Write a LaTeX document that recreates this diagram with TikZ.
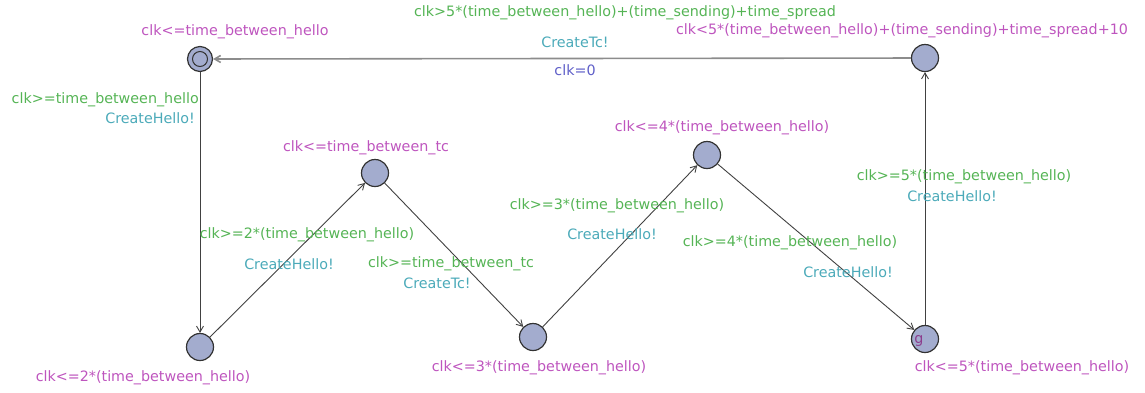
\documentclass[tikz,border=0pt]{standalone}
\usepackage{fontspec}
\setmainfont{DejaVu Sans}
\usetikzlibrary{arrows.meta}
\definecolor{guardc}{RGB}{85,180,85}
\definecolor{invc}{RGB}{190,85,190}
\definecolor{syncc}{RGB}{75,170,185}
\definecolor{assignc}{RGB}{95,95,200}
\definecolor{namec}{RGB}{140,60,140}
\definecolor{locfill}{RGB}{163,172,206}
\definecolor{edgec}{RGB}{65,65,65}
\begin{document}
\begin{tikzpicture}[x=1pt,y=-1pt,
  loc/.style={circle,draw=black!80,fill=locfill,line width=1.2pt,minimum size=27pt,inner sep=0pt},
  lbl/.style={font=\fontsize{14.3}{16}\selectfont,inner sep=0pt},
  guard/.style={lbl,text=guardc},
  inv/.style={lbl,text=invc},
  sync/.style={lbl,text=syncc},
  asg/.style={lbl,text=assignc},
  tr/.style={draw=edgec,line width=0.9pt,-{Straight Barb[length=6pt,width=7pt]}}]
\useasboundingbox (0,0) rectangle (1145,392);

% locations
\node[loc,minimum size=25pt] (A) at (200,59) {};
\draw[black!80,line width=1pt] (A.center) circle (7.5pt);
\node[loc] (B) at (200,347) {};
\node[loc] (C) at (375,173) {};
\node[loc] (D) at (533,337) {};
\node[loc] (E) at (707,155) {};
\node[loc] (F) at (925,339) {};
\node[lbl,text=namec] (Fname) at (919,341) {g};
\node[loc] (G) at (925,58) {};

% invariants
\node[inv] (iA) at (235,32) {clk<=time\_between\_hello};
\node[inv] (iB) at (143,378) {clk<=2*(time\_between\_hello)};
\node[inv] (iC) at (366,148) {clk<=time\_between\_tc};
\node[inv] (iD) at (539,368) {clk<=3*(time\_between\_hello)};
\node[inv] (iE) at (722,128) {clk<=4*(time\_between\_hello)};
\node[inv] (iF) at (1022,368) {clk<=5*(time\_between\_hello)};
\node[inv] (iG) at (902,31) {clk<5*(time\_between\_hello)+(time\_sending)+time\_spread+10};

% transitions
\draw[tr,line width=1.6pt,draw=gray!90] (G) -- (A);
\draw[tr] (A) -- (B);
\draw[tr] (B) -- (C);
\draw[tr] (C) -- (D);
\draw[tr] (D) -- (E);
\draw[tr] (E) -- (F);
\draw[tr] (F) -- (G);

% transition labels
\node[guard] (gGA) at (625,13) {clk>5*(time\_between\_hello)+(time\_sending)+time\_spread};
\node[sync] (sGA) at (575,42) {CreateTc!};
\node[asg] (aGA) at (575,70) {clk=0};

\node[guard,anchor=east] (gAB) at (199,100) {clk>=time\_between\_hello};
\node[sync,anchor=east] (sAB) at (195,118) {CreateHello!};

\node[guard] (gBC) at (307,235) {clk>=2*(time\_between\_hello)};
\node[sync] (sBC) at (289,264) {CreateHello!};

\node[guard] (gCD) at (451,264) {clk>=time\_between\_tc};
\node[sync] (sCD) at (437,283) {CreateTc!};

\node[guard] (gDE) at (617,206) {clk>=3*(time\_between\_hello)};
\node[sync] (sDE) at (612,234) {CreateHello!};

\node[guard] (gEF) at (790,243) {clk>=4*(time\_between\_hello)};
\node[sync] (sEF) at (848,272) {CreateHello!};

\node[guard] (gFG) at (964,177) {clk>=5*(time\_between\_hello)};
\node[sync] (sFG) at (952,196) {CreateHello!};
\end{tikzpicture}
\end{document}
